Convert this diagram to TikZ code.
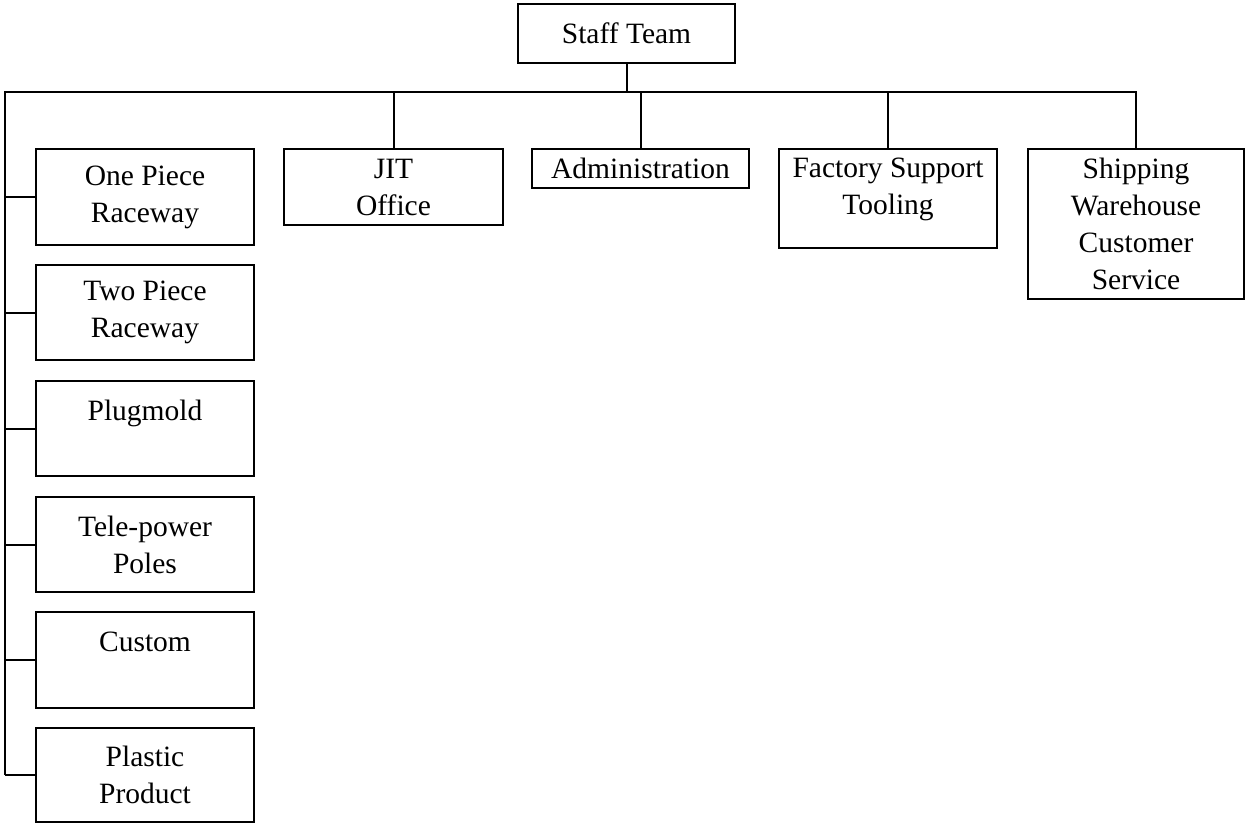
\documentclass[tikz,border=0pt]{standalone}
\usepackage{fontspec}
\setmainfont{Liberation Serif}
\usetikzlibrary{positioning}

\tikzset{
  unit/.style={draw, line width=2pt, align=center, anchor=north west,
    inner sep=0pt, font=\fontsize{29.5}{37}\selectfont},
  link/.style={line width=2pt, line join=miter}
}

\begin{document}
\begin{tikzpicture}[
  x=1pt, y=-1pt
]%
  \useasboundingbox (0,0) rectangle (1246,823);

  % Top
  \node[unit, minimum width=217pt, minimum height=59pt] (staff) at (517,3) {Staff Team};

  % Second row
  \node[unit, minimum width=219pt, minimum height=76pt] (jit) at (283,148) {JIT\\Office};
  \node[unit, minimum width=217pt, minimum height=39pt] (admin) at (531,148) {Administration};
  \node[unit, minimum width=218pt, minimum height=99pt] (factory) at (778,148)
    {Factory Support\\Tooling\\[-12pt]~};
  \node[unit, minimum width=216pt, minimum height=150pt] (shipping) at (1027,148)
    {Shipping\\Warehouse\\Customer\\Service};

  % Product column
  \node[unit, minimum width=218pt, minimum height=96pt] (onepiece) at (35,148) {One Piece\\Raceway};
  \node[unit, minimum width=218pt, minimum height=95pt] (twopiece) at (35,264) {Two Piece\\Raceway};
  \node[unit, minimum width=218pt, minimum height=95pt] (plugmold) at (35,380) {Plugmold\\~};
  \node[unit, minimum width=218pt, minimum height=95pt] (telepower) at (35,496) {Tele-power\\Poles};
  \node[unit, minimum width=218pt, minimum height=96pt] (custom) at (35,611) {Custom\\~};
  \node[unit, minimum width=218pt, minimum height=94pt] (plastic) at (35,727) {Plastic\\Product};

  % Bus
  \coordinate (bus) at (5,92);
  \draw[link] (staff.south) -- (staff.south |- bus);
  \draw[link] (plastic.west -| bus) -- (bus) -- (bus -| shipping.north) -- (shipping.north);
  \foreach \n in {jit,admin,factory}
    \draw[link] (\n.north) -- (\n.north |- bus);
  \foreach \n in {onepiece,twopiece,plugmold,telepower,custom,plastic}
    \draw[link] (\n.west) -- (\n.west -| bus);
\end{tikzpicture}
\end{document}
